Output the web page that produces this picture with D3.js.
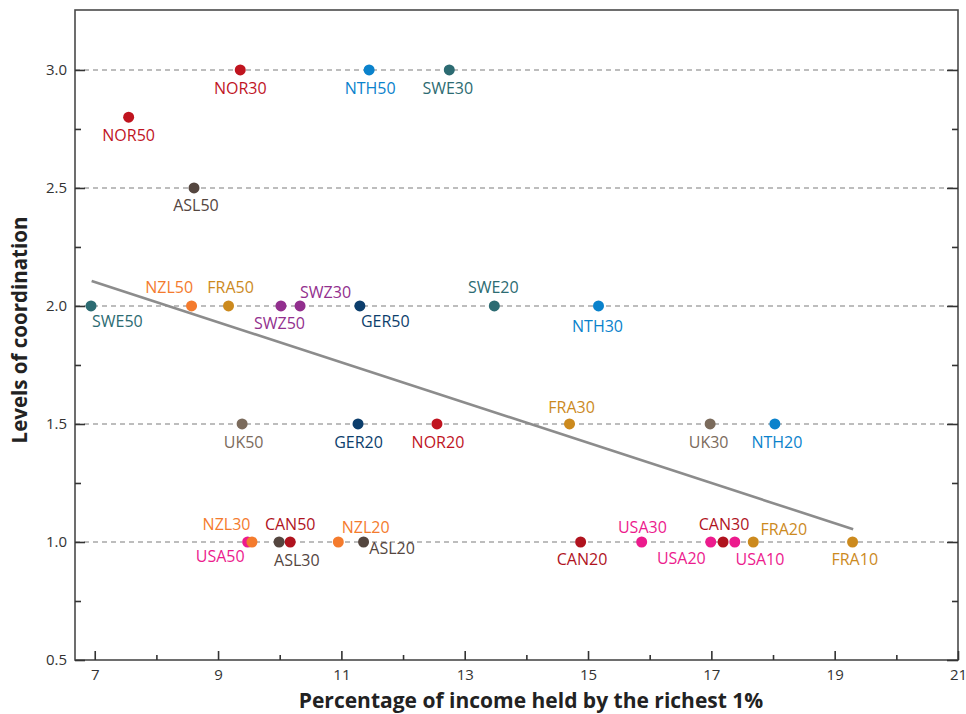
<!DOCTYPE html>
<html>
<head>
<meta charset="utf-8">
<script src="https://cdn.jsdelivr.net/npm/d3@7"></script>
<style>
  html, body { margin: 0; padding: 0; background: #fff; }
  svg { display: block; font-family: "Open Sans", sans-serif; }
</style>
</head>
<body>
<svg id="chart" width="966" height="714"></svg>
<script>
// ---------------- DATA ----------------
const labels    = ["NOR30","NOR50","ASL50","NTH50","SWE30",
                   "SWE50","NZL50","FRA50","SWZ50","SWZ30","GER50","SWE20","NTH30",
                   "UK50","GER20","NOR20","FRA30","UK30","NTH20",
                   "USA50","NZL30","ASL30","CAN50","NZL20","ASL20","CAN20","USA30","USA20","CAN30","USA10","FRA20","FRA10"];
const countries = ["NOR","NOR","ASL","NTH","SWE",
                   "SWE","NZL","FRA","SWZ","SWZ","GER","SWE","NTH",
                   "UK","GER","NOR","FRA","UK","NTH",
                   "USA","NZL","ASL","CAN","NZL","ASL","CAN","USA","USA","CAN","USA","FRA","FRA"];
const xValues   = [9.36, 7.55, 8.61, 11.45, 12.75,
                   6.94, 8.57, 9.17, 10.02, 10.33, 11.30, 13.48, 15.17,
                   9.39, 11.27, 12.55, 14.70, 16.98, 18.03,
                   9.48, 9.55, 9.99, 10.17, 10.95, 11.36, 14.88, 15.87, 16.99, 17.19, 17.38, 17.68, 19.29];
const yValues   = [3.0, 2.8, 2.5, 3.0, 3.0,
                   2.0, 2.0, 2.0, 2.0, 2.0, 2.0, 2.0, 2.0,
                   1.5, 1.5, 1.5, 1.5, 1.5, 1.5,
                   1.0, 1.0, 1.0, 1.0, 1.0, 1.0, 1.0, 1.0, 1.0, 1.0, 1.0, 1.0, 1.0];
const trendX = [6.95, 19.30];
const trendY = [2.106, 1.054];
const xTickValues = [7, 9, 11, 13, 15, 17, 19, 21];
const xMinorTicks = [8, 10, 12, 14, 16, 18, 20];
const yTickValues = [0.5, 1.0, 1.5, 2.0, 2.5, 3.0];
const yMinorTicks = [0.75, 1.25, 1.75, 2.25, 2.75];
const xTitle = "Percentage of income held by the richest 1%";
const yTitle = "Levels of coordination";

// ---------------- STYLE / LAYOUT ----------------
const countryColors = {
  NOR: "#c0141f", CAN: "#b0131e", ASL: "#54463f", UK: "#7b6b5c",
  NTH: "#0a82cc", SWE: "#2c6b72", NZL: "#f47b2d", FRA: "#cc8a1e",
  SWZ: "#922f8e", GER: "#0c3e6c", USA: "#ec1b8d"
};
// label placement: [dx, dy(baseline), anchor]
const labelLayout = {
  NOR30: [0, 24, "middle"], NOR50: [0, 24, "middle"], ASL50: [2, 23.5, "middle"],
  NTH50: [1, 24, "middle"], SWE30: [-1.5, 24, "middle"],
  SWE50: [1, 21, "start"], NZL50: [1.5, -12.5, "end"], FRA50: [2, -12.5, "middle"],
  SWZ50: [-1.5, 23, "middle"], SWZ30: [0, -7.5, "start"], GER50: [1, 21, "start"],
  SWE20: [-1, -12.5, "middle"], NTH30: [-1, 26.5, "middle"],
  UK50: [1.5, 24.5, "middle"], GER20: [0.5, 24, "middle"], NOR20: [1, 24, "middle"],
  FRA30: [2, -10.5, "middle"], UK30: [-1.5, 24, "middle"], NTH20: [2, 24, "middle"],
  USA50: [-3, 20, "end"], NZL30: [-1.5, -11.7, "end"], ASL30: [-5, 24, "start"],
  CAN50: [0, -12.4, "middle"], NZL20: [3.5, -9, "start"], ASL20: [5.7, 12.3, "start"],
  CAN20: [1.4, 23.3, "middle"], USA30: [0.7, -9.4, "middle"], USA20: [-5, 21.6, "end"],
  CAN30: [1, -12.4, "middle"], USA10: [0.7, 23.3, "start"], FRA20: [7.3, -6.7, "start"],
  FRA10: [2.2, 23.3, "middle"]
};

const mLeft = 75, mRight = 958, mTop = 10, mBottom = 660;
const svg = d3.select("#chart");

const x = d3.scaleLinear().domain([6.68, 21]).range([mLeft, mRight]);
const y = d3.scaleLinear().domain([0.5, 3.254]).range([mBottom, mTop]);

// gridlines
svg.append("g").selectAll("line")
  .data(yTickValues.filter(v => v > 0.5))
  .join("line")
  .attr("x1", mLeft).attr("x2", mRight)
  .attr("y1", d => y(d)).attr("y2", d => y(d))
  .attr("stroke", "#a8a8a8").attr("stroke-width", 1.5)
  .attr("stroke-dasharray", "5,4");

// frame
svg.append("rect")
  .attr("x", mLeft).attr("y", mTop)
  .attr("width", mRight - mLeft).attr("height", mBottom - mTop)
  .attr("fill", "none").attr("stroke", "#4a4a4a").attr("stroke-width", 1.6);

function styleAxis(g) {
  g.select(".domain").remove();
  g.selectAll(".tick line").attr("stroke", "#333").attr("stroke-width", 1.6);
  g.selectAll(".tick text").attr("fill", "#333")
    .style("font-family", "'Open Sans', sans-serif").style("font-size", "15px");
}

// x axis
svg.append("g").attr("transform", `translate(0,${mBottom})`)
  .call(d3.axisBottom(x).tickValues(xMinorTicks).tickSizeInner(-5).tickSizeOuter(0).tickFormat(""))
  .call(styleAxis);
svg.append("g").attr("transform", `translate(0,${mBottom})`)
  .call(d3.axisBottom(x).tickValues(xTickValues).tickSizeInner(-9).tickSizeOuter(0)
        .tickPadding(9).tickFormat(d3.format("d")))
  .call(styleAxis);

// y axis left
svg.append("g").attr("transform", `translate(${mLeft},0)`)
  .call(d3.axisLeft(y).tickValues(yMinorTicks).tickSizeInner(-6).tickSizeOuter(0).tickFormat(""))
  .call(styleAxis);
svg.append("g").attr("transform", `translate(${mLeft},0)`)
  .call(d3.axisLeft(y).tickValues(yTickValues).tickSizeInner(-10).tickSizeOuter(0)
        .tickPadding(8).tickFormat(d3.format(".1f")))
  .call(styleAxis);
// y axis right
svg.append("g").attr("transform", `translate(${mRight},0)`)
  .call(d3.axisRight(y).tickValues(yMinorTicks).tickSizeInner(-6).tickSizeOuter(0).tickFormat(""))
  .call(styleAxis);
svg.append("g").attr("transform", `translate(${mRight},0)`)
  .call(d3.axisRight(y).tickValues(yTickValues).tickSizeInner(-11).tickSizeOuter(0).tickFormat(""))
  .call(styleAxis);

// trend line
svg.append("path")
  .datum(trendX.map((v, i) => [v, trendY[i]]))
  .attr("d", d3.line().x(d => x(d[0])).y(d => y(d[1])))
  .attr("fill", "none").attr("stroke", "#8c8c8c").attr("stroke-width", 2.6);

// data
const data = labels.map((l, i) => ({label: l, country: countries[i], x: xValues[i], y: yValues[i]}));

svg.append("g").selectAll("circle")
  .data(data).join("circle")
  .attr("cx", d => x(d.x)).attr("cy", d => y(d.y)).attr("r", 5.5)
  .attr("fill", d => countryColors[d.country]);

svg.append("g").selectAll("text")
  .data(data).join("text")
  .attr("x", d => x(d.x) + labelLayout[d.label][0])
  .attr("y", d => y(d.y) + labelLayout[d.label][1])
  .attr("text-anchor", d => labelLayout[d.label][2])
  .attr("fill", d => countryColors[d.country])
  .style("font-size", "16px")
  .text(d => d.label);

// titles
svg.append("text")
  .attr("x", 531).attr("y", 708)
  .attr("text-anchor", "middle")
  .attr("fill", "#222").style("font-size", "21px").style("font-weight", "bold")
  .text(xTitle);
svg.append("text")
  .attr("transform", "translate(27,330) rotate(-90)")
  .attr("text-anchor", "middle")
  .attr("fill", "#222").style("font-size", "20.5px").style("font-weight", "bold")
  .text(yTitle);
</script>
</body>
</html>
